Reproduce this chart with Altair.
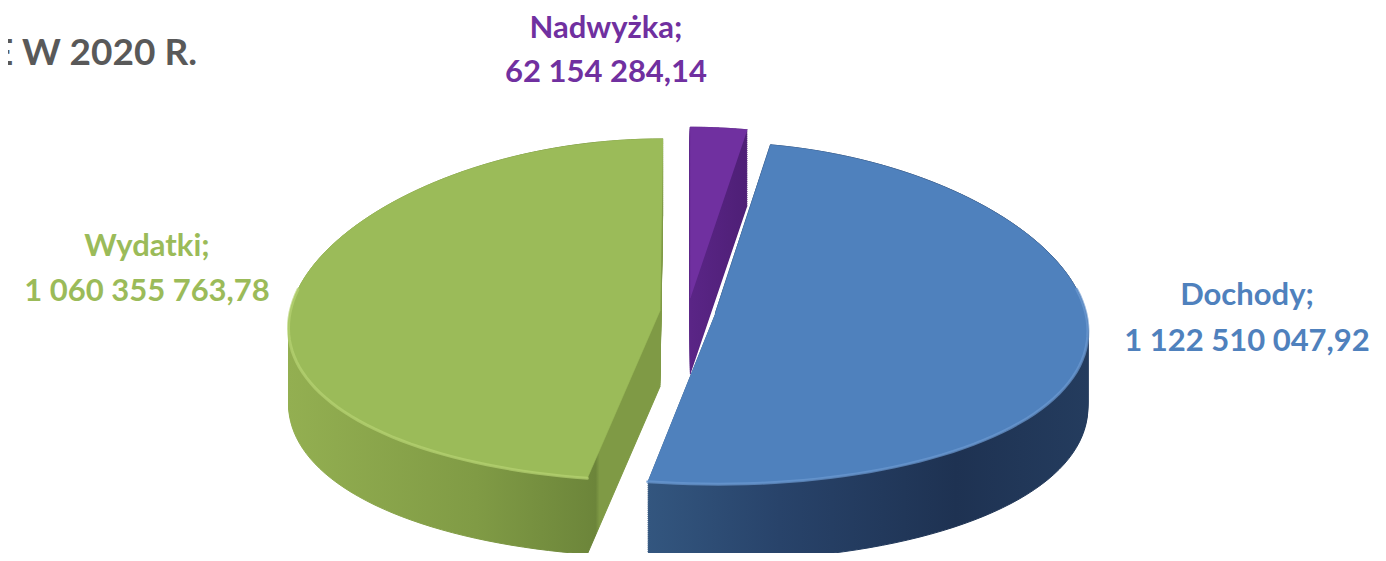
import altair as alt
import pandas as pd

# ---- data ----
NAMES = ["Nadwyżka", "Dochody", "Wydatki"]
VALUES = [62154284.14, 1122510047.92, 1060355763.78]
TOP_COLORS = ["#7030A0", "#4F81BD", "#9BBB59"]
RIM_COLORS = ["#8A4BBA", "#6C9AD2", "#B6D373"]
LABEL_COLORS = ["#7030A0", "#4F81BD", "#9BBB59"]
TITLE_TEXT = "E W 2020 R."


def fmt(v):
    s = f"{v:,.2f}"
    return s.replace(",", " ").replace(".", ",")


df = pd.DataFrame({"name": NAMES, "value": VALUES, "order": list(range(len(NAMES)))})
lab = pd.DataFrame({
    "name": NAMES,
    "line1": [n + ";" for n in NAMES],
    "line2": [fmt(v) for v in VALUES],
})

# ---- geometry / style ----
W, H = 1370, 545
EXPLODE = 0.075
PERSP = 0.1
DEPTH = 0.444
STEP = 0.012
N = 90
XDOM = [-1.8378, 1.8649]
YDOM = [-1.4152, 1.7719]
FONT = "Lato"


def grad(stops):
    return alt.Gradient(
        gradient="linear", x1=0, x2=1, y1=0, y2=0,
        stops=[alt.GradientStop(color=c, offset=o) for o, c in stops],
    )


SIDE = {
    "Nadwyżka": grad([(0, "#5A2586"), (1, "#4E1F76")]),
    "Dochody": grad([(0, "#33567F"), (0.3, "#28436A"), (0.7, "#1E3252"), (1, "#243C5E")]),
    "Wydatki": grad([(0, "#93AF51"), (0.5, "#809B45"), (0.82, "#6C853A"),
                     (0.83, "#7F9A45"), (1, "#7F9A45")]),
}

xs = alt.Scale(domain=XDOM, nice=False, zero=False)
ys = alt.Scale(domain=YDOM, nice=False, zero=False)


def pie_base(name):
    return (
        alt.Chart(df)
        .transform_joinaggregate(total="sum(value)")
        .transform_window(cum="sum(value)", sort=[alt.SortField("order")], frame=[None, 0])
        .transform_calculate(a0="2*PI*(datum.cum-datum.value)/datum.total")
        .transform_calculate(a1="2*PI*datum.cum/datum.total")
        .transform_calculate(am="(datum.a0+datum.a1)/2")
        .transform_filter(alt.datum.name == name)
        .transform_calculate(k=f"sequence(-1, {N + 1})")
        .transform_flatten(["k"])
        .transform_calculate(t=f"datum.a0 + (datum.a1-datum.a0)*max(datum.k,0)/{N}")
        .transform_calculate(rim="datum.k >= 0 ? 1 : 0")
        .transform_calculate(X0=f"{EXPLODE}*sin(datum.am) + datum.rim*sin(datum.t)")
        .transform_calculate(Y=f"{EXPLODE}*cos(datum.am) + datum.rim*cos(datum.t)")
        .transform_calculate(X=f"datum.X0*(1 - {PERSP}*datum.Y)")
    )


layers = []
# dark extruded sides (stack of shifted copies)
for name in NAMES:
    g = SIDE[name]
    side = (
        pie_base(name)
        .transform_calculate(dz=f"sequence(0, {DEPTH + STEP / 2}, {STEP})")
        .transform_flatten(["dz"])
        .transform_calculate(Yd="datum.Y - datum.dz")
        .mark_line(fill=g, stroke=g, strokeWidth=1)
        .encode(
            x=alt.X("X:Q", scale=xs, axis=None),
            y=alt.Y("Yd:Q", scale=ys, axis=None),
            order=alt.Order("k:Q"),
            detail="dz:N",
        )
    )
    layers.append(side)

# top faces
for name, col in zip(NAMES, TOP_COLORS):
    top = (
        pie_base(name)
        .mark_line(fill=col, stroke=col, strokeWidth=0.6)
        .encode(
            x=alt.X("X:Q", scale=xs, axis=None),
            y=alt.Y("Y:Q", scale=ys, axis=None),
            order=alt.Order("k:Q"),
        )
    )
    layers.append(top)

# soft bevel highlight on the front rim of the top faces
for name, rc in zip(NAMES, RIM_COLORS):
    rim = (
        pie_base(name)
        .transform_filter("datum.k >= 0 && cos(datum.t) < 0.15")
        .mark_line(stroke=rc, strokeWidth=3, opacity=0.7, strokeCap="round")
        .encode(
            x=alt.X("X:Q", scale=xs, axis=None),
            y=alt.Y("Y:Q", scale=ys, axis=None),
            order=alt.Order("k:Q"),
        )
    )
    layers.append(rim)

# labels
LABEL_POS = {"Nadwyżka": (598, 30, 74), "Dochody": (1239, 297, 343), "Wydatki": (139, 248, 293)}
for name, col in zip(NAMES, LABEL_COLORS):
    px, py1, py2 = LABEL_POS[name]
    for field, py in (("line1", py1), ("line2", py2)):
        t = (
            alt.Chart(lab)
            .transform_filter(alt.datum.name == name)
            .mark_text(font=FONT, fontSize=31, fontWeight="bold", color=col,
                       align="center", baseline="alphabetic")
            .encode(x=alt.value(px), y=alt.value(py), text=f"{field}:N")
        )
        layers.append(t)

title = (
    alt.Chart(pd.DataFrame({"t": [TITLE_TEXT]}))
    .mark_text(font=FONT, fontSize=37, fontWeight="bold", color="#595959",
               align="right", baseline="alphabetic")
    .encode(x=alt.value(189), y=alt.value(57), text="t:N")
)
layers.append(title)

chart = (
    alt.layer(*layers)
    .properties(width=W, height=H, padding=0,
                autosize=alt.AutoSizeParams(type="none"))
    .configure_view(stroke=None)
)

chart.save("out.html", embed_options={"renderer": "svg", "actions": False})
